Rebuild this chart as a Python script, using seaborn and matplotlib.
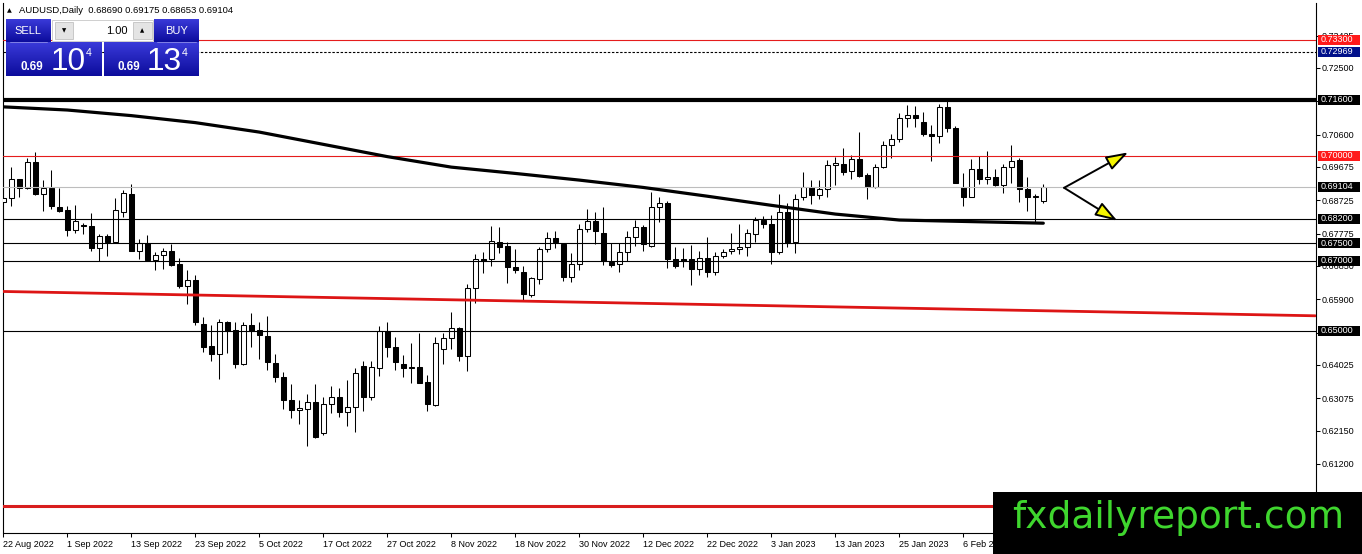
import numpy as np
import pandas as pd
import matplotlib
matplotlib.use("Agg")
import matplotlib.pyplot as plt
import matplotlib.transforms as mtransforms
from matplotlib.patches import Rectangle
from matplotlib.colors import LinearSegmentedColormap
import seaborn as sns

# ---------------- data ----------------
date_labels = ["22 Aug 2022", "1 Sep 2022", "13 Sep 2022", "23 Sep 2022", "5 Oct 2022",
               "17 Oct 2022", "27 Oct 2022", "8 Nov 2022", "18 Nov 2022", "30 Nov 2022",
               "12 Dec 2022", "22 Dec 2022", "3 Jan 2023", "13 Jan 2023", "25 Jan 2023",
               "6 Feb 2023", "16 Feb 2023"]
label_bars = [0, 8, 16, 24, 32, 40, 48, 56, 64, 72, 80, 88, 96, 104, 112, 120, 128]

open_ = [0.6868, 0.6878, 0.6932, 0.6907, 0.6981, 0.6889, 0.6907, 0.6852, 0.6844, 0.6787,
         0.6801, 0.6798, 0.6735, 0.6770, 0.6752, 0.6838, 0.6890, 0.6729, 0.6750, 0.6703,
         0.6717, 0.6727, 0.6691, 0.6629, 0.6644, 0.6519, 0.6456, 0.6435, 0.6526, 0.6502,
         0.6404, 0.6517, 0.6502, 0.6486, 0.6407, 0.6367, 0.6303, 0.6274, 0.6276, 0.6298,
         0.6208, 0.6290, 0.6310, 0.6269, 0.6281, 0.6398, 0.6312, 0.6395, 0.6498, 0.6453,
         0.6404, 0.6395, 0.6396, 0.6353, 0.6288, 0.6447, 0.6479, 0.6507, 0.6429, 0.6621,
         0.6705, 0.6705, 0.6752, 0.6742, 0.6682, 0.6667, 0.6602, 0.6647, 0.6732, 0.6766,
         0.6748, 0.6653, 0.6690, 0.6790, 0.6813, 0.6778, 0.6697, 0.6690, 0.6726, 0.6769,
         0.6795, 0.6743, 0.6854, 0.6866, 0.6704, 0.6705, 0.6704, 0.6675, 0.6707, 0.6669,
         0.6714, 0.6727, 0.6732, 0.6738, 0.6776, 0.6816, 0.6805, 0.6726, 0.6838, 0.6752,
         0.6881, 0.6911, 0.6888, 0.6904, 0.6972, 0.6976, 0.6956, 0.6989, 0.6945, 0.6909,
         0.6966, 0.7029, 0.7046, 0.7106, 0.7116, 0.7097, 0.7061, 0.7057, 0.7138, 0.7078,
         0.6909, 0.6883, 0.6961, 0.6932, 0.6938, 0.6916, 0.6966, 0.6987, 0.6905, 0.6882,
         0.68690]
high = [0.6930, 0.6966, 0.6934, 0.6992, 0.7011, 0.6930, 0.6959, 0.6907, 0.6856, 0.6858,
        0.6807, 0.6835, 0.6775, 0.6775, 0.6878, 0.6902, 0.6919, 0.6761, 0.6773, 0.6726,
        0.6737, 0.6749, 0.6707, 0.6673, 0.6659, 0.6539, 0.6516, 0.6533, 0.6528, 0.6524,
        0.6524, 0.6550, 0.6526, 0.6542, 0.6434, 0.6382, 0.6347, 0.6301, 0.6320, 0.6347,
        0.6312, 0.6341, 0.6336, 0.6360, 0.6393, 0.6415, 0.6414, 0.6514, 0.6526, 0.6481,
        0.6431, 0.6464, 0.6495, 0.6374, 0.6483, 0.6493, 0.6553, 0.6512, 0.6633, 0.6719,
        0.6726, 0.6799, 0.6795, 0.6752, 0.6732, 0.6685, 0.6654, 0.6740, 0.6781, 0.6786,
        0.6750, 0.6721, 0.6804, 0.6847, 0.6840, 0.6852, 0.6750, 0.6750, 0.6785, 0.6816,
        0.6802, 0.6895, 0.6883, 0.6871, 0.6738, 0.6735, 0.6745, 0.6729, 0.6769, 0.6726,
        0.6733, 0.6778, 0.6804, 0.6790, 0.6824, 0.6828, 0.6830, 0.6890, 0.6864, 0.6890,
        0.6954, 0.6930, 0.6930, 0.6987, 0.6997, 0.7021, 0.7001, 0.7066, 0.6949, 0.6976,
        0.7042, 0.7062, 0.7122, 0.7144, 0.7142, 0.7123, 0.7087, 0.7147, 0.7156, 0.7084,
        0.6951, 0.6990, 0.6999, 0.7013, 0.6962, 0.6976, 0.7030, 0.6992, 0.6938, 0.6889,
        0.69175]
low = [0.6864, 0.6857, 0.6881, 0.6905, 0.6888, 0.6843, 0.6848, 0.6838, 0.6771, 0.6780,
       0.6775, 0.6728, 0.6699, 0.6714, 0.6750, 0.6826, 0.6727, 0.6706, 0.6700, 0.6672,
       0.6675, 0.6686, 0.6623, 0.6575, 0.6516, 0.6440, 0.6415, 0.6362, 0.6436, 0.6393,
       0.6402, 0.6453, 0.6419, 0.6388, 0.6355, 0.6276, 0.6250, 0.6234, 0.6170, 0.6195,
       0.6203, 0.6266, 0.6253, 0.6229, 0.6212, 0.6272, 0.6301, 0.6372, 0.6426, 0.6388,
       0.6369, 0.6350, 0.6350, 0.6272, 0.6286, 0.6405, 0.6447, 0.6415, 0.6386, 0.6580,
       0.6664, 0.6685, 0.6721, 0.6636, 0.6664, 0.6588, 0.6597, 0.6634, 0.6726, 0.6735,
       0.6643, 0.6640, 0.6672, 0.6783, 0.6747, 0.6688, 0.6683, 0.6669, 0.6700, 0.6742,
       0.6729, 0.6740, 0.6811, 0.6678, 0.6678, 0.6683, 0.6631, 0.6659, 0.6653, 0.6659,
       0.6709, 0.6719, 0.6719, 0.6712, 0.6754, 0.6792, 0.6691, 0.6719, 0.6738, 0.6723,
       0.6873, 0.6861, 0.6875, 0.6881, 0.6916, 0.6944, 0.6932, 0.6938, 0.6875, 0.6908,
       0.6964, 0.6994, 0.7040, 0.7081, 0.7082, 0.7056, 0.6985, 0.7037, 0.7068, 0.6921,
       0.6857, 0.6881, 0.6919, 0.6919, 0.6914, 0.6892, 0.6923, 0.6867, 0.6843, 0.6811,
       0.68653]
close = [0.6878, 0.6932, 0.6908, 0.6981, 0.6889, 0.6907, 0.6855, 0.6843, 0.6787, 0.6812,
         0.6799, 0.6735, 0.6770, 0.6752, 0.6844, 0.6892, 0.6729, 0.6750, 0.6703, 0.6715,
         0.6727, 0.6689, 0.6628, 0.6644, 0.6525, 0.6455, 0.6435, 0.6524, 0.6498, 0.6404,
         0.6517, 0.6498, 0.6488, 0.6410, 0.6367, 0.6301, 0.6274, 0.6279, 0.6298, 0.6198,
         0.6290, 0.6310, 0.6269, 0.6281, 0.6379, 0.6312, 0.6396, 0.6498, 0.6453, 0.6412,
         0.6395, 0.6397, 0.6352, 0.6290, 0.6464, 0.6479, 0.6507, 0.6429, 0.6621, 0.6704,
         0.6700, 0.6756, 0.6740, 0.6681, 0.6672, 0.6605, 0.6650, 0.6732, 0.6766, 0.6752,
         0.6653, 0.6690, 0.6790, 0.6813, 0.6786, 0.6699, 0.6688, 0.6726, 0.6769, 0.6795,
         0.6747, 0.6854, 0.6864, 0.6704, 0.6686, 0.6699, 0.6675, 0.6707, 0.6669, 0.6712,
         0.6726, 0.6732, 0.6738, 0.6778, 0.6816, 0.6804, 0.6726, 0.6838, 0.6750, 0.6875,
         0.6911, 0.6888, 0.6904, 0.6972, 0.6978, 0.6954, 0.6989, 0.6943, 0.6909, 0.6968,
         0.7029, 0.7046, 0.7106, 0.7116, 0.7106, 0.7061, 0.7056, 0.7138, 0.7078, 0.6923,
         0.6883, 0.6961, 0.6932, 0.6938, 0.6916, 0.6966, 0.6985, 0.6904, 0.6881, 0.6884,
         0.69104]

# moving average read at sample bars
ma_bars = [0, 8, 16, 24, 32, 40, 48, 56, 64, 72, 80, 88, 96, 104, 112, 120, 128, 130]
ma_vals = [0.7139, 0.7130, 0.7114, 0.7094, 0.7067, 0.7032, 0.6997, 0.6967, 0.6949,
           0.6930, 0.6909, 0.6884, 0.6858, 0.6833, 0.6816, 0.6812, 0.6808, 0.6807]

# red sloping trend line (two anchor points)
trend_bars = [0, 164]
trend_vals = [0.66121, 0.65427]

# horizontal levels: (price, color, linewidth, linestyle)
levels = [(0.73300, "#e51c1c", 0.8, "-"),
          (0.72969, "black", 0.8, (0, (2.2, 1.5))),
          (0.71600, "black", 3.0, "-"),
          (0.70000, "#e51c1c", 0.8, "-"),
          (0.69104, "#bdbdbd", 0.8, "-"),
          (0.68200, "black", 0.8, "-"),
          (0.67500, "black", 0.8, "-"),
          (0.67000, "black", 0.8, "-"),
          (0.65000, "black", 0.8, "-"),
          (0.60000, "#d81e1e", 2.2, "-")]

# boxed price labels on right axis
box_labels = [(0.73300, "#ff1a1a"), (0.72969, "#00108a"), (0.71600, "black"),
              (0.70000, "#ff1a1a"), (0.69104, "black"), (0.68200, "black"),
              (0.67500, "black"), (0.67000, "black"), (0.65000, "black")]

price_ticks = [0.73425, 0.72500, 0.71550, 0.70600, 0.69675, 0.68725, 0.67775, 0.66850,
               0.65900, 0.64950, 0.64025, 0.63075, 0.62150, 0.61200]
hidden_ticks = [0.71550, 0.64950]   # labels fully covered by level boxes in the reference

header = "AUDUSD,Daily  0.68690 0.69175 0.68653 0.69104"

# ---------------- style ----------------
sns.set_theme(style="white")
plt.rcParams["font.family"] = ["Liberation Sans", "DejaVu Sans"]

W_PX, H_PX = 1362, 554
fig = plt.figure(figsize=(W_PX / 100, H_PX / 100), dpi=100)
fig.patch.set_facecolor("white")

left_px, right_px, top_px, bot_px = 2.5, 1316.5, 3.5, 532.5
ax = fig.add_axes([left_px / W_PX, (H_PX - bot_px) / H_PX,
                   (right_px - left_px) / W_PX, (bot_px - top_px) / H_PX])
ax.set_facecolor("white")

df = pd.DataFrame({"open": open_, "high": high, "low": low, "close": close})
df["bar"] = np.arange(len(df))
df["bottom"] = df[["open", "close"]].min(axis=1)
df["height"] = (df["close"] - df["open"]).abs().clip(lower=0.00004)
df["fc"] = np.where(df["close"] >= df["open"], "white", "black")

# candles
ax.vlines(df["bar"], df["low"], df["high"], color="black", lw=0.75, zorder=2)
ax.bar(df["bar"], df["height"], bottom=df["bottom"], width=0.58, color=df["fc"],
       edgecolor="black", linewidth=0.75, zorder=3)

# levels
for price, col, lw, ls in levels:
    ax.axhline(price, color=col, lw=lw, ls=ls, zorder=4)

# trend line & moving average via seaborn
sns.lineplot(x=trend_bars, y=trend_vals, ax=ax, color="#dd1515", lw=2.0, zorder=4)
sns.lineplot(x=ma_bars, y=ma_vals, ax=ax, color="black", lw=2.3, zorder=5)

# arrows
arrow_kw = dict(arrowstyle="-|>,head_length=0.9,head_width=0.3", fc="#f5f500", ec="black",
                lw=1.4, mutation_scale=15, shrinkA=0, shrinkB=0)
ax.annotate("", xy=(140.6, 0.7009), xytext=(132.6, 0.6908), arrowprops=arrow_kw, zorder=6)
ax.annotate("", xy=(139.25, 0.6814), xytext=(132.6, 0.6908), arrowprops=arrow_kw, zorder=6)

ax.set_xlim(-0.1, 164.15)
ax.set_ylim(0.59242, 0.74340)

# axes styling
for s in ["left", "bottom", "right"]:
    ax.spines[s].set_visible(True)
    ax.spines[s].set_color("black")
    ax.spines[s].set_linewidth(0.8)
ax.spines["top"].set_visible(False)

ax.yaxis.tick_right()
ax.set_yticks(price_ticks)
ax.set_yticklabels(["" if p in hidden_ticks else f"{p:.5f}" for p in price_ticks])
ax.tick_params(axis="y", which="both", right=True, left=False, direction="out",
               length=2.8, width=0.75, pad=1.2, labelsize=6.5, colors="black")
ax.set_xticks(label_bars)
ax.set_xticklabels(date_labels)
for lbl in ax.get_xticklabels():
    lbl.set_horizontalalignment("left")
ax.tick_params(axis="x", bottom=True, direction="out", length=3, width=0.75, pad=2.2,
               labelsize=6.5, colors="black")
ax.set_xlabel("")
ax.set_ylabel("")

# boxed price labels on the right
blend = mtransforms.blended_transform_factory(ax.transAxes, ax.transData)
half_h = 5.0 * (0.74340 - 0.59242) / (bot_px - top_px)
x0_box = (1317.6 - left_px) / (right_px - left_px)
x1_box = (1360.0 - left_px) / (right_px - left_px)
x_txt = (1320.5 - left_px) / (right_px - left_px)
for price, col in box_labels:
    ax.add_patch(Rectangle((x0_box, price - half_h), x1_box - x0_box, 2 * half_h,
                           transform=blend, facecolor=col, edgecolor="none",
                           clip_on=False, zorder=20))
    ax.text(x_txt, price, f"{price:.5f}", transform=blend, color="white", fontsize=6.5,
            ha="left", va="center", clip_on=False, zorder=21)

# ---------------- overlay (pixel coords) ----------------
ov = fig.add_axes([0, 0, 1, 1], zorder=10)
ov.set_facecolor("none")
ov.axis("off")

blue_cm = LinearSegmentedColormap.from_list("mtblue", ["#3a3ad9", "#0c0c9c"])
grad = np.linspace(0, 1, 64).reshape(-1, 1)


def gbox(x0, y0, x1, y1):
    ov.imshow(grad, extent=(x0, x1, y1, y0), cmap=blue_cm, aspect="auto",
              origin="upper", interpolation="bilinear", zorder=1)


gbox(6, 20, 50.5, 42.5)      # SELL
gbox(6, 42.5, 101.5, 76)     # sell price
gbox(154, 20, 199, 42.5)     # BUY
gbox(104, 42.5, 199, 76)     # buy price
ov.plot([10, 47], [41.5, 41.5], color="#8c8ce8", lw=0.6, zorder=2)
ov.plot([157, 196], [41.5, 41.5], color="#8c8ce8", lw=0.6, zorder=2)

ov.add_patch(Rectangle((51.5, 20), 101.5, 20.5, facecolor="white", edgecolor="#c8c8c8",
                       lw=0.6, zorder=2))
ov.add_patch(Rectangle((55, 21.8), 18, 17.5, facecolor="#e4e4e4", edgecolor="#b8b8b8",
                       lw=0.5, zorder=3))
ov.add_patch(Rectangle((132.7, 21.8), 19, 17.5, facecolor="#e4e4e4", edgecolor="#b8b8b8",
                       lw=0.5, zorder=3))
ov.text(64, 30.5, "\u25BC", fontsize=4, ha="center", va="center", color="black", zorder=4,
        family=["DejaVu Sans"])
ov.text(142.2, 30.5, "\u25B2", fontsize=4, ha="center", va="center", color="black", zorder=4,
        family=["DejaVu Sans"])
ov.text(127.5, 30.5, "1.00", fontsize=8, ha="right", va="center", color="black", zorder=4)
ov.text(28.2, 31, "SELL", fontsize=8, ha="center", va="center", color="white", zorder=4)
ov.text(176.5, 31, "BUY", fontsize=8, ha="center", va="center", color="white", zorder=4)

for xs, big in [((20.5, 50.3, 85.5), "10"), ((118, 146.5, 181.5), "13")]:
    ov.text(xs[0], 70, "0.69", fontsize=8.4, fontweight="bold", ha="left", va="baseline",
            color="white", zorder=4)
    ov.text(xs[1], 70, big, fontsize=22.8, ha="left", va="baseline", color="white", zorder=4)
    ov.text(xs[2], 48, "4", fontsize=7.7, ha="left", va="top", color="white", zorder=4)

# header
ov.text(6.5, 10.5, "\u25B2", fontsize=4.5, ha="left", va="center", color="black",
        family=["DejaVu Sans"])
ov.text(19, 10.5, header, fontsize=6.8, ha="left", va="center", color="black")

# watermark logo
ov.add_patch(Rectangle((993, 492), 369, 62, facecolor="black", edgecolor="none", zorder=5))
ov.text(1178, 528, "fxdailyreport.com", fontsize=27, ha="center", va="baseline",
        color="#3fd62e", zorder=6, family=["DejaVu Sans"])

ov.set_xlim(0, W_PX)
ov.set_ylim(H_PX, 0)

fig.savefig("out.png", dpi=100, facecolor="white")
